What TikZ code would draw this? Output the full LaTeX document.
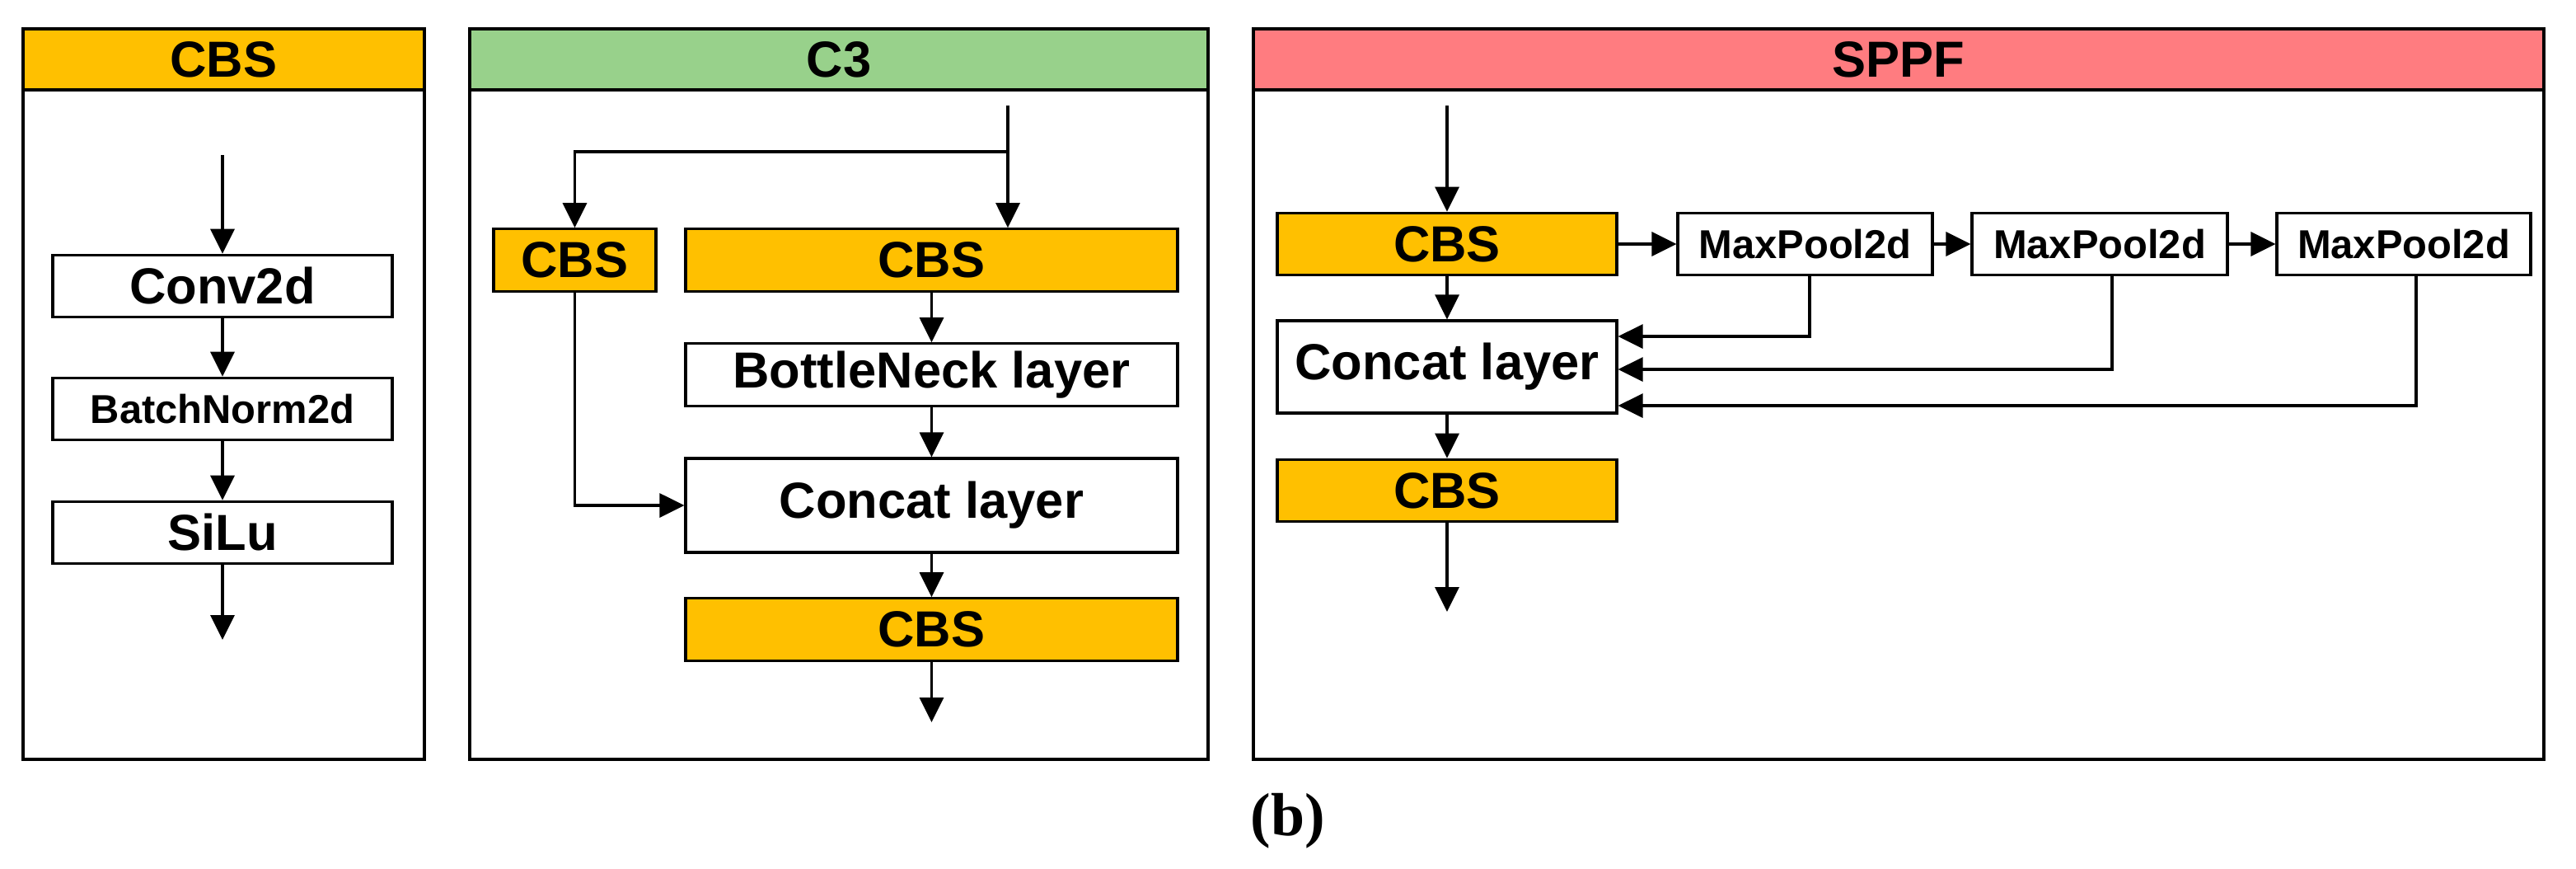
\documentclass[tikz,border=0pt]{standalone}
\usepackage{fontspec}
\setmainfont{Liberation Sans}
\newfontfamily\captionfont{Liberation Serif}
\usetikzlibrary{arrows.meta}

\definecolor{cbsorange}{HTML}{FFC000}
\definecolor{cthreegreen}{HTML}{98D18B}
\definecolor{sppfred}{HTML}{FF7C80}

\begin{document}
\begin{tikzpicture}[
    every node/.style={inner sep=0pt, font=\bfseries\fontsize{17.5}{20}\selectfont},
    panel/.style={line width=1.05pt},
    head/.style={draw, line width=1.05pt, minimum height=0.74cm},
    layer/.style={draw, line width=0.9pt, fill=white, minimum height=0.755cm},
    cbs/.style={layer, fill=cbsorange},
    small/.style={font=\bfseries\fontsize{13.9}{16}\selectfont},
    flow/.style={line width=0.9pt, -{Triangle[length=0.3cm,width=0.29cm]}}
  ]
  \useasboundingbox (0,0) rectangle (31.26,-10.53);

  % CBS
  \draw[panel] (0.28,-1.09) rectangle (5.15,-9.21);
  \node[head, fill=cbsorange, minimum width=4.87cm] (cbshead) at (2.715,-0.72) {CBS};
  \coordinate (cbsin) at (2.70,-1.88);
  \coordinate (cbsout) at (2.70,-7.76);
  \node[layer, minimum width=4.12cm] (conv) at (2.70,-3.47) {Conv2d};
  \node[layer, small, minimum width=4.12cm] (bn) at (2.70,-4.96) {BatchNorm2d};
  \node[layer, minimum width=4.12cm] (silu) at (2.70,-6.46) {SiLu};
  \draw[flow] (cbsin) -- (conv);
  \draw[flow] (conv) -- (bn);
  \draw[flow] (bn) -- (silu);
  \draw[flow] (silu) -- (cbsout);

  % C3
  \draw[panel] (5.70,-1.09) rectangle (14.66,-9.21);
  \node[head, fill=cthreegreen, minimum width=8.96cm] (cthreehead) at (10.18,-0.72) {C3};
  \coordinate (cthreein) at (12.23,-1.28);
  \coordinate (cthreesplit) at (12.23,-1.84);
  \coordinate (cthreeout) at (11.305,-8.76);
  \node[cbs, minimum width=1.97cm] (cbsa) at (6.975,-3.155) {CBS};
  \node[cbs, minimum width=5.97cm] (cbsb) at (11.305,-3.155) {CBS};
  \node[layer, minimum width=5.97cm] (neck) at (11.305,-4.545) {BottleNeck layer};
  \node[layer, minimum width=5.97cm, minimum height=1.14cm] (cat) at (11.305,-6.13) {Concat layer};
  \node[cbs, minimum width=5.97cm] (cbsc) at (11.305,-7.635) {CBS};
  \draw[flow] (cthreein) -- (cthreein |- cbsb.north);
  \draw[flow] (cthreesplit) -| (cbsa);
  \draw[flow] (cbsb) -- (neck);
  \draw[flow] (neck) -- (cat);
  \draw[flow] (cbsa) |- (cat);
  \draw[flow] (cat) -- (cbsc);
  \draw[flow] (cbsc) -- (cthreeout);

  % SPPF
  \draw[panel] (15.21,-1.09) rectangle (30.87,-9.21);
  \node[head, fill=sppfred, minimum width=15.66cm] (sppfhead) at (23.04,-0.72) {SPPF};
  \coordinate (sppfin) at (17.56,-1.28);
  \coordinate (sppfout) at (17.56,-7.42);
  \node[cbs, minimum width=4.12cm] (cbsd) at (17.56,-2.96) {CBS};
  \node[layer, small, minimum width=3.09cm] (poola) at (21.905,-2.96) {MaxPool2d};
  \node[layer, small, minimum width=3.10cm] (poolb) at (25.48,-2.96) {MaxPool2d};
  \node[layer, small, minimum width=3.08cm] (poolc) at (29.17,-2.96) {MaxPool2d};
  \node[layer, minimum width=4.12cm, minimum height=1.12cm] (catb) at (17.56,-4.45) {Concat layer};
  \node[cbs, minimum width=4.12cm] (cbse) at (17.56,-5.95) {CBS};
  \draw[flow] (sppfin) -- (cbsd);
  \draw[flow] (cbsd) -- (poola);
  \draw[flow] (poola) -- (poolb);
  \draw[flow] (poolb) -- (poolc);
  \draw[flow] (cbsd) -- (catb);
  \draw[flow] ([xshift=0.055cm]poola.south) |- ([yshift=0.37cm]catb.east);
  \draw[flow] ([xshift=0.15cm]poolb.south) |- ([yshift=-0.03cm]catb.east);
  \draw[flow] ([xshift=0.15cm]poolc.south) |- ([yshift=-0.47cm]catb.east);
  \draw[flow] (catb) -- (cbse);
  \draw[flow] (cbse) -- (sppfout);

  \node[font=\captionfont\bfseries\fontsize{21}{24}\selectfont] (caption) at (15.63,-9.96) {(b)};
\end{tikzpicture}
\end{document}
